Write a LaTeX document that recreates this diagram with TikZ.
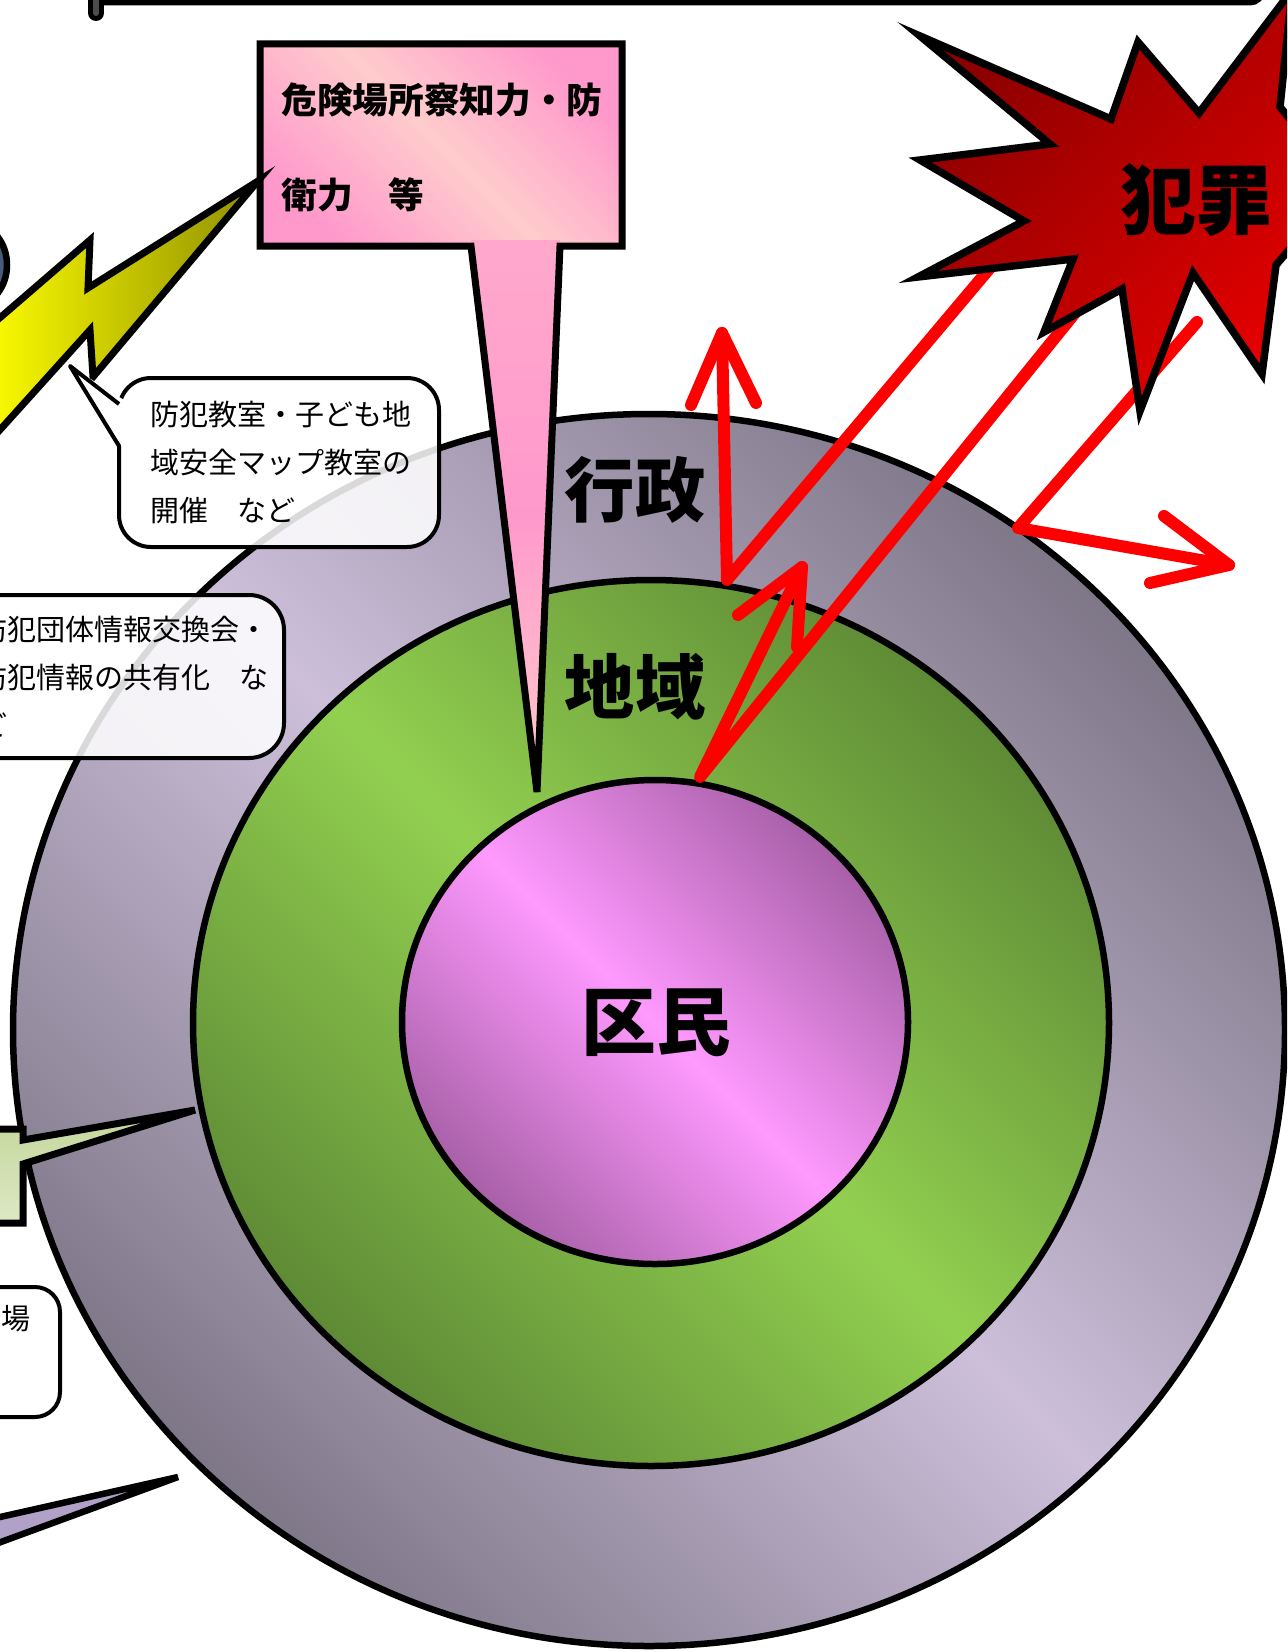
\documentclass[tikz,border=0pt]{standalone}
\usepackage{fontspec}
\newfontfamily\jpfont{Noto Sans CJK JP}

\definecolor{outerD}{HTML}{7E7788}
\definecolor{outerL}{HTML}{CDBFDA}
\definecolor{greenD}{HTML}{5E8A35}
\definecolor{greenL}{HTML}{92D050}
\definecolor{innerD}{HTML}{A860A8}
\definecolor{innerL}{HTML}{FF99FF}
\definecolor{boxD}{HTML}{FF99CC}
\definecolor{boxL}{HTML}{FFCCCC}
\definecolor{starD}{HTML}{8B0000}
\definecolor{starL}{HTML}{E60000}
\definecolor{boltY}{HTML}{FFFF00}
\definecolor{boltD}{HTML}{8F8F00}
\definecolor{leafG}{HTML}{C3D69B}
\definecolor{leafL}{HTML}{DCE8C4}
\definecolor{lilac}{HTML}{B1A0C7}
\definecolor{headB}{HTML}{4A5A7A}

\begin{document}
\begin{tikzpicture}[x=0.2mm, y=-0.2mm, font=\jpfont,
  ring/.style={draw=black, line width=1.3mm},
  redline/.style={draw=red, line width=2.4mm, line cap=round, line join=round},
  balloon/.style={draw=black, line width=0.8mm, fill=white, fill opacity=0.85},
  balloontext/.style={anchor=north west, inner sep=0, align=left, font=\jpfont\fontsize{16.5}{27.3}\selectfont},
  bigword/.style={inner sep=0, font=\jpfont\bfseries\fontsize{40}{40}\selectfont}]
\useasboundingbox (0,0) rectangle (1287,1652);
\clip (0,0) rectangle (1287,1652);

% head at the left edge
\draw[line width=1.3mm, fill=headB] (-25,265) ellipse [x radius=32, y radius=40];

% the three rings
\draw[ring, top color=outerD, bottom color=outerD, middle color=outerL, shading angle=-45] (649,1030) ellipse [x radius=636, y radius=616];
\draw[ring, top color=greenD, bottom color=greenD, middle color=greenL, shading angle=-45] (651,1023) ellipse [x radius=458, y radius=443];
\draw[ring, top color=innerD, bottom color=innerD, middle color=innerL, shading angle=-45] (655,1022) ellipse [x radius=253, y radius=242];

% balloons
\draw[balloon, rounded corners=6.4mm] (119,378) rectangle (439,547);
\node[balloontext] (kyoshitsu) at (150,401) {防犯教室・子ども地\\域安全マップ教室の\\開催　など};
\draw[balloon, rounded corners=7mm] (-60,595) rectangle (284,758);
\node[balloontext] (koukan) at (-22,616) {防犯団体情報交換会・\\防犯情報の共有化　な\\ど};

% pink box with its pointer
\shade[top color=boxD, bottom color=boxD, middle color=boxL, shading angle=-45] (260,44) rectangle (622,246);
\shade[top color=boxD!70!boxL, bottom color=boxL, middle color=boxD] (471,240) -- (560,240) -- (537,792) -- cycle;
\draw[line width=1.4mm] (260,44) -- (622,44) -- (622,246) -- (560,246) -- (537,792) -- (471,246) -- (260,246) -- cycle;
\node[anchor=north west, inner sep=0, align=left, font=\jpfont\bfseries\fontsize{20.3}{54.6}\selectfont] (kiken) at (281,82) {危険場所察知力・防\\衛力　等};

% ring labels
\node[bigword] (gyosei) at (635,490) {行政};
\node[bigword] (chiiki) at (635,687) {地域};
\node[bigword, font=\jpfont\bfseries\fontsize{42.5}{42.5}\selectfont] (kumin) at (656,1023) {区民};

% red arrows
\coordinate (vA) at (727,580);
\coordinate (tipA) at (722,333);
\draw[redline] (995,262) -- (vA) -- (tipA);
\draw[redline] (691,405) -- (tipA) -- (756,403);
\coordinate (pB) at (700,777);
\coordinate (tipB) at (802,567);
\draw[redline] (1100,282) -- (pB) -- (tipB);
\draw[redline] (738,615) -- (tipB) -- (797,647);
\coordinate (sC) at (1197,322);
\coordinate (vC) at (1018,528);
\coordinate (tipC) at (1229,565);
\draw[redline] (sC) -- (vC) -- (tipC);
\draw[redline] (1164,516) -- (tipC) -- (1150,583);

% crime burst
\draw[line width=1.5mm, left color=starD, right color=starL, shading angle=45]
  (920,36) -- (1111,119) -- (1138,42) -- (1199,113) -- (1292,-10) -- (1280,107)
  -- (1345,185) -- (1276,265) -- (1262,374) -- (1193,273) -- (1140,411)
  -- (1122,289) -- (1044,332) -- (1073,259) -- (918,277) -- (1024,221)
  -- (920,160) -- (1050,144) -- cycle;
\node[bigword, font=\jpfont\bfseries\fontsize{43}{43}\selectfont] (hanzai) at (1196,200) {犯罪};

% lightning bolt
\draw[line width=1.4mm, left color=boltY, right color=boltD]
  (-20,335) -- (90,240) -- (88,288) -- (258,181) -- (93,377) -- (90,330) -- (-20,452) -- cycle;

% tail of the first balloon
\fill[white] (70,366) -- (124,400) -- (124,450) -- cycle;
\draw[line width=0.8mm, line join=round] (119,404) -- (70,366) -- (119,446);

% left side pieces
\draw[line width=1.4mm, top color=leafG, bottom color=leafL]
  (-40,1129) -- (23,1129) -- (23,1140) -- (195,1110) -- (23,1164) -- (23,1223) -- (-40,1223) -- cycle;
\draw[balloon, rounded corners=5mm] (-60,1287) rectangle (60,1417);
\node[balloontext, anchor=north east] (ba) at (31,1305) {の場};
\draw[line width=1.3mm, fill=lilac] (-40,1526) -- (178,1477) -- (-40,1557) -- cycle;

% frame at the top
\draw[line width=1.4mm, rounded corners=2.4mm] (96,2) -- (1262,2) -- (1262,-40);
\draw[line width=3.2mm, line cap=round] (96,-40) -- (96,13);
\draw[line width=1.2mm, line cap=round, draw=gray!60!black] (96,-40) -- (96,13);
\end{tikzpicture}
\end{document}
